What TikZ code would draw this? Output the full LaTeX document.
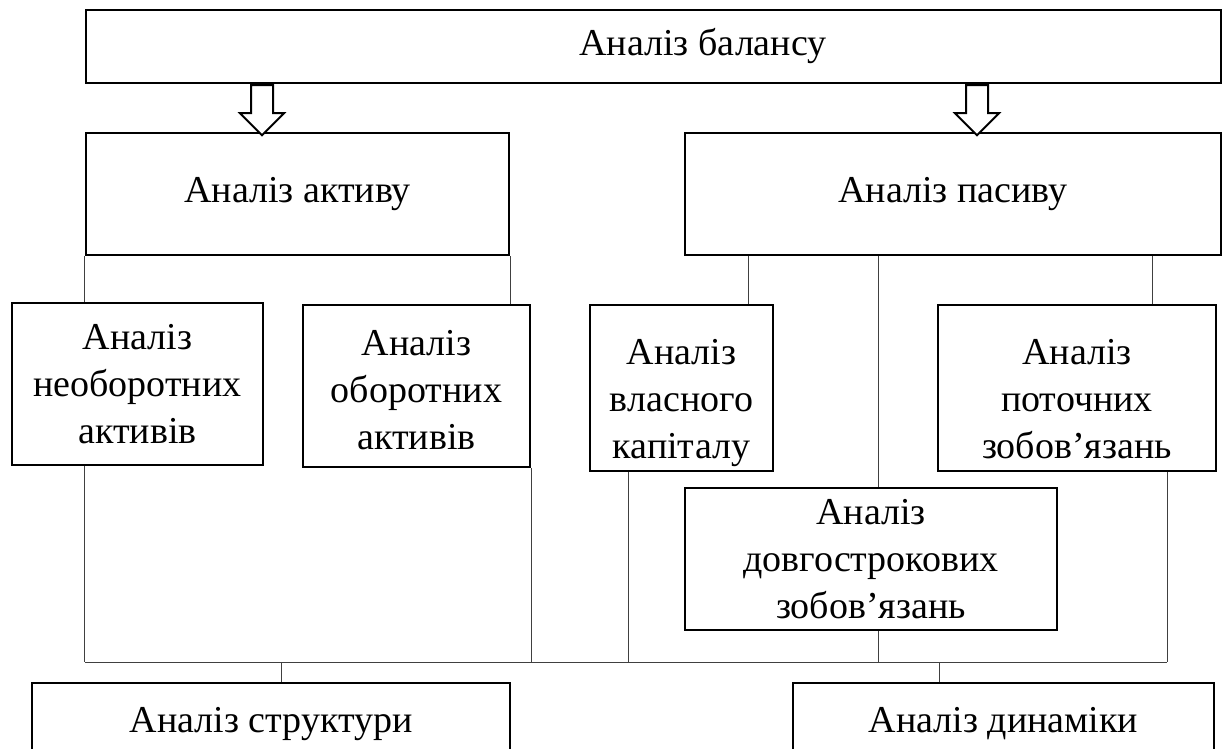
\documentclass[tikz,border=0pt]{standalone}
\usepackage{fontspec}
\setmainfont{Liberation Serif}
\usetikzlibrary{shapes.arrows}
% lower the text inside a box without changing the box
\newcommand{\lowtext}[2]{\raisebox{-#1}[\height][\depth]{\begin{tabular}{@{}c@{}}#2\end{tabular}}}

\begin{document}
\begin{tikzpicture}[x=1pt, y=-1pt,
    box/.style={draw, rectangle, line width=2.5pt, inner sep=0pt, align=center, font=\fontsize{38}{47}\selectfont},
    link/.style={draw=black!75, line width=1pt},
    blockarrow/.style={draw, single arrow, line width=2pt, fill=white, rotate=-90, minimum height=50, minimum width=42,
        inner xsep=0pt, inner ysep=10pt, single arrow head extend=11pt, single arrow head indent=0pt}]
    % Balance analysis scheme
    \useasboundingbox (0,0) rectangle (1224,749);
    \clip (0,0) rectangle (1224,749);
    \coordinate (xarl) at (262,0);
    \coordinate (xarr) at (977,0);
    \coordinate (xeq) at (748,0);
    \coordinate (xlong) at (878,0);
    \coordinate (xcl) at (1152,0);
    \coordinate (xeqd) at (628,0);
    \coordinate (xcld) at (1167,0);
    \coordinate (xs) at (281,0);
    \coordinate (xd) at (939,0);
    \coordinate (bus) at (0,662);

    \node[box, minimum width=1135, minimum height=73] (balance) at (653.5,46.5) {};
    \node[font=\fontsize{38}{47}\selectfont, inner sep=0pt] (balancetext) at (703,46.5) {Аналіз балансу};
    \node[box, minimum width=423, minimum height=122] (assets) at (297.5,194) {Аналіз активу};
    \node[box, minimum width=536, minimum height=122] (liab) at (953,194) {Аналіз пасиву};
    \node[box, minimum width=251, minimum height=162] (noncur) at (137.5,384) {Аналіз\\необоротних\\активів};
    \node[box, minimum width=227, minimum height=162] (cur) at (416.5,386) {\lowtext{7pt}{Аналіз\\оборотних\\активів}};
    \node[box, minimum width=183, minimum height=166] (equity) at (681.5,388) {\lowtext{14pt}{Аналіз\\власного\\капіталу}};
    \node[box, minimum width=278, minimum height=166] (curliab) at (1077,388) {\lowtext{14pt}{Аналіз\\поточних\\зобов’язань}};
    \node[box, minimum width=372, minimum height=142] (longliab) at (871,559) {Аналіз\\довгострокових\\зобов’язань};
    \node[box, minimum width=478, minimum height=82] (struct) at (271,724) {Аналіз структури};
    \node[box, minimum width=421, minimum height=82] (dyn) at (1003.5,724) {Аналіз динаміки};

    \node[blockarrow, anchor=tail] (arrowl) at (xarl |- balance.south) {};
    \node[blockarrow, anchor=tail] (arrowr) at (xarr |- balance.south) {};

    \draw[link] (assets.south west) -- (assets.south west |- noncur.north);
    \draw[link] (assets.south east) -- (assets.south east |- cur.north);
    \draw[link] (xeq |- liab.south) -- (xeq |- equity.north);
    \draw[link] (xlong |- liab.south) -- (xlong |- longliab.north);
    \draw[link] (xcl |- liab.south) -- (xcl |- curliab.north);
    \draw[link] (assets.west |- noncur.south) -- (assets.west |- bus);
    \draw[link] (cur.south east) -- (cur.south east |- bus);
    \draw[link] (xeqd |- equity.south) -- (xeqd |- bus);
    \draw[link] (xlong |- longliab.south) -- (xlong |- bus);
    \draw[link] (xcld |- curliab.south) -- (xcld |- bus);
    \draw[link] (assets.west |- bus) -- (xcld |- bus);
    \draw[link] (xs |- bus) -- (xs |- struct.north);
    \draw[link] (xd |- bus) -- (xd |- dyn.north);
\end{tikzpicture}
\end{document}
